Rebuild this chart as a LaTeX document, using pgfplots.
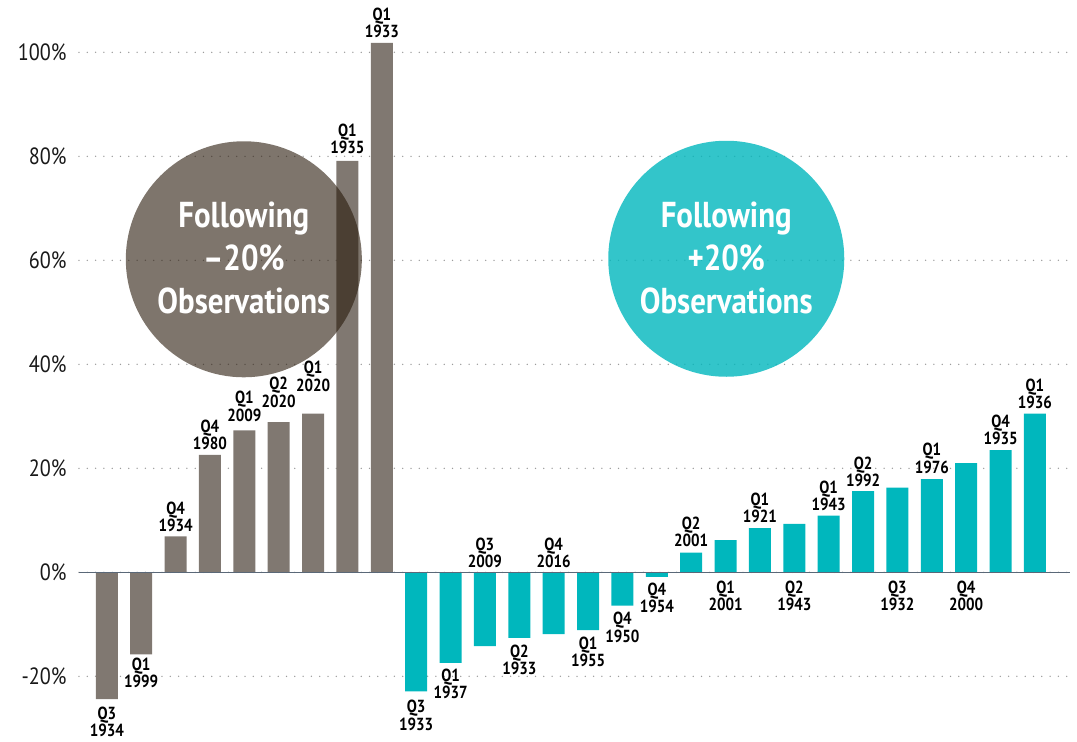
\documentclass[border=0pt]{standalone}
\usepackage{fontspec}
\setmainfont{PT Sans}[FakeStretch=0.86]
\usepackage{pgfplots}
\usepackage{pgfplotstable}
\pgfplotsset{compat=1.18}
\definecolor{bargray}{RGB}{128,120,113}
\definecolor{barteal}{RGB}{0,183,189}
\definecolor{circdark}{RGB}{40,25,10}
\definecolor{zeroline}{RGB}{90,104,120}
\definecolor{griddot}{RGB}{155,155,155}

\pgfplotstableread{
x y
0 -24.4
1 -15.8
2 6.9
3 22.6
4 27.3
5 28.9
6 30.5
7 79.1
8 101.8
}\neg

\pgfplotstableread{
x y
9 -22.9
10 -17.4
11 -14.2
12 -12.6
13 -11.9
14 -11.1
15 -6.4
16 -0.9
17 3.8
18 6.2
19 8.5
20 9.3
21 10.9
22 15.6
23 16.3
24 17.9
25 21.0
26 23.5
27 30.5
}\pos

\pgfplotstableread{
x ly lab
0 -28.7 {Q3\\1934}
1 -19.4 {Q1\\1999}
2 10.7 {Q4\\1934}
3 26.4 {Q4\\1980}
4 31.9 {Q1\\2009}
5 34.6 {Q2\\2020}
6 37.7 {Q1\\2020}
7 83.3 {Q1\\1935}
8 105.7 {Q1\\1933}
9 -27.5 {Q3\\1933}
10 -21.5 {Q1\\1937}
11 3.8 {Q3\\2009}
12 -16.8 {Q2\\1933}
13 3.8 {Q4\\2016}
14 -15.3 {Q1\\1955}
15 -10.6 {Q4\\1950}
16 -4.9 {Q4\\1954}
17 7.8 {Q2\\2001}
18 -4.5 {Q1\\2001}
19 12.4 {Q1\\1921}
20 -4.5 {Q2\\1943}
21 14.7 {Q1\\1943}
22 19.3 {Q2\\1992}
23 -4.5 {Q3\\1932}
24 21.9 {Q1\\1976}
25 -4.5 {Q4\\2000}
26 27.4 {Q4\\1935}
27 34.3 {Q1\\1936}
}\labels

\begin{document}
\begin{tikzpicture}
\begin{axis}[
  scale only axis,
  width=991pt, height=742pt,
  xmin=-0.81, xmax=28.02,
  ymin=-32.63, ymax=110.06,
  axis line style={draw=none},
  tick style={draw=none},
  clip=false,
  xtick=\empty,
  ytick={-20,0,20,40,60,80,100},
  yticklabels={-20\%,0\%,20\%,40\%,60\%,80\%,100\%},
  yticklabel style={font=\fontsize{23.5}{26}\selectfont, color=black!90, anchor=east, xshift=-9pt},
  /pgf/number format/assume math mode=true,
  ymajorgrids,
  major grid style={griddot, line width=1.5pt, dash pattern=on 0pt off 8.3pt, line cap=round},
]
\addplot[ybar, bar width=22pt, bar shift=0pt, fill=bargray, draw=none] table[x=x,y=y] {\neg};
\addplot[ybar, bar width=22pt, bar shift=0pt, fill=barteal, draw=none] table[x=x,y=y] {\pos};
\draw[zeroline, line width=1.6pt] (axis cs:-0.81,0) -- (axis cs:28.02,0);

\node[circle, minimum size=236pt, inner sep=0pt, fill=circdark, fill opacity=0.6] at (axis cs:3.985,60.2) {};
\node[align=center, text=white, font=\fontsize{36}{43}\selectfont\bfseries] at (axis cs:3.985,60.4) {Following\\--20\%\\Observations};
\node[circle, minimum size=236pt, inner sep=0pt, fill=barteal, fill opacity=0.8] at (axis cs:18.02,60.3) {};
\node[align=center, text=white, font=\fontsize{36}{43}\selectfont\bfseries] at (axis cs:18.02,60.4) {Following\\+20\%\\Observations};

\addplot[draw=none, mark=none,
  point meta=explicit symbolic,
  nodes near coords,
  nodes near coords style={anchor=center, align=center, inner sep=0pt,
     font=\fontsize{17.5}{14.5}\selectfont\bfseries, text=black}]
  table[x=x,y=ly,meta=lab] {\labels};
\end{axis}
\pgfresetboundingbox
\path ([xshift=-79pt]current axis.south west) rectangle ([xshift=7pt]current axis.north east);
\end{tikzpicture}
\end{document}
